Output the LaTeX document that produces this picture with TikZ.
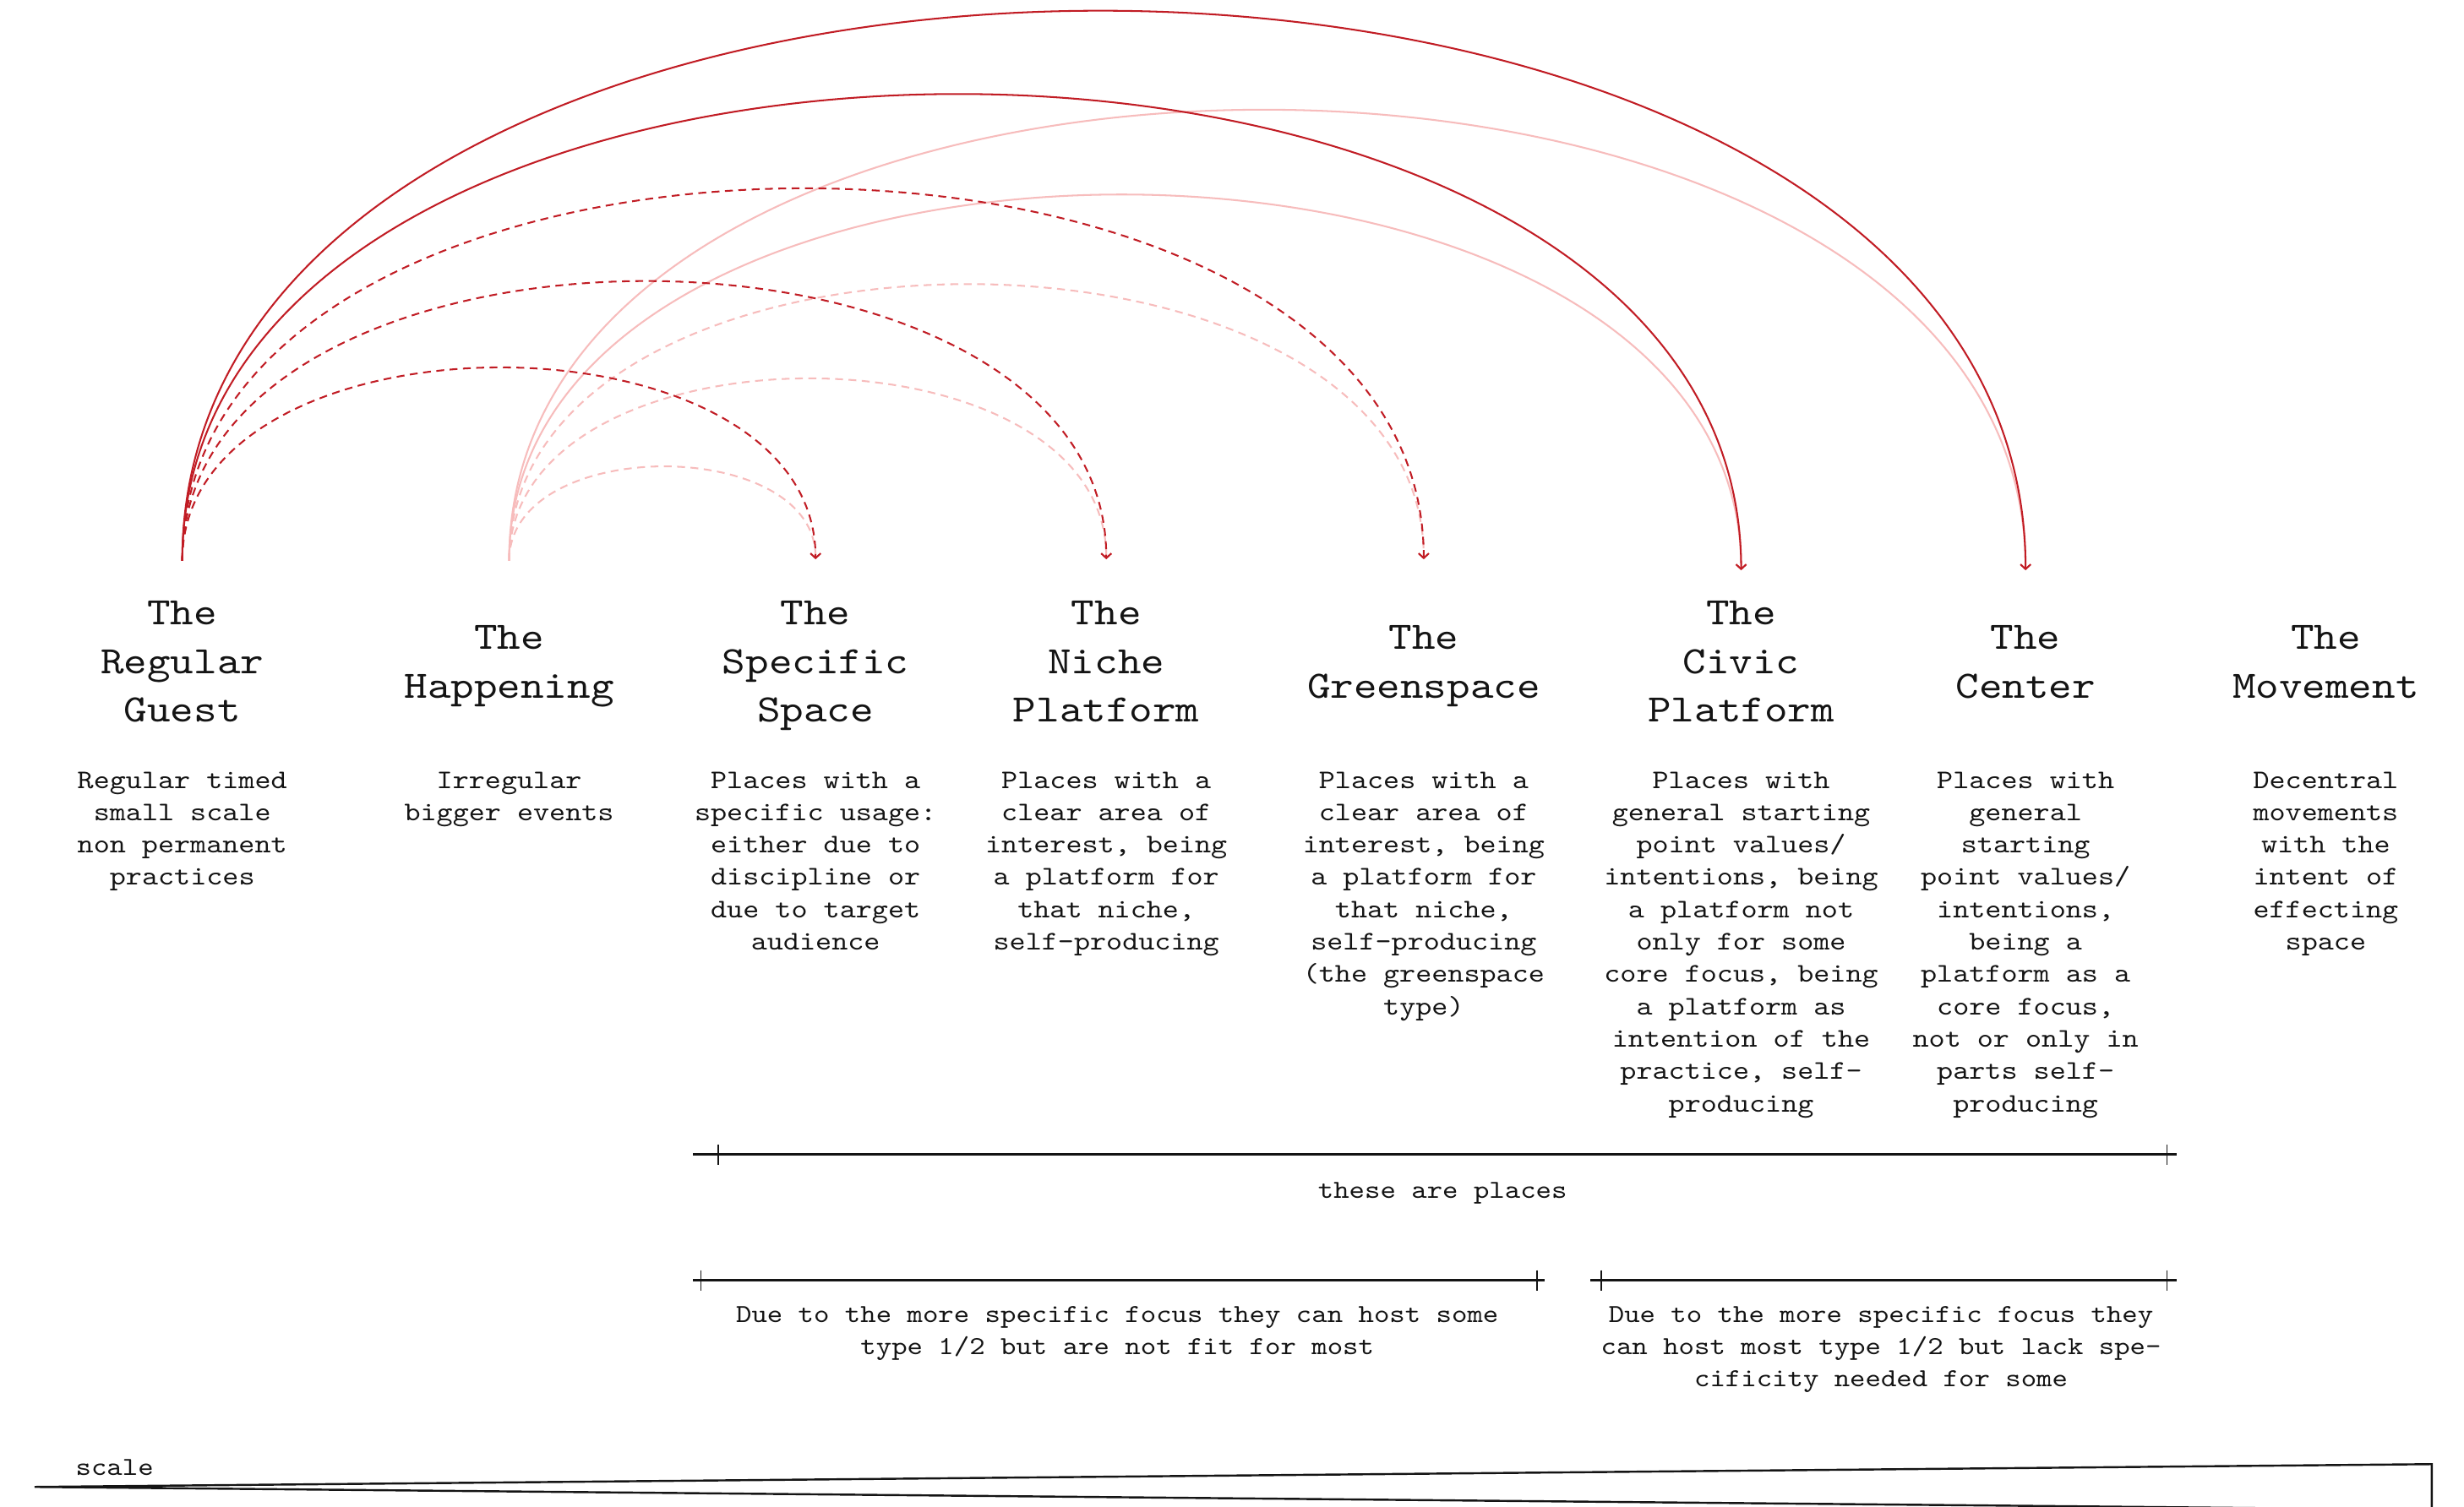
\documentclass[tikz,border=0pt]{standalone}
\usepackage{fontspec}
\usetikzlibrary{arrows.meta,calc}
\newfontfamily\cmono[FakeStretch=1.143]{lmmono10-regular.otf}
\definecolor{dred}{RGB}{193,28,36}
\definecolor{lred}{RGB}{247,188,188}
\definecolor{ink}{RGB}{20,20,20}
\newcommand\tsa{\rule{0pt}{24pt}}
\newcommand\tsb{\rule{0pt}{17pt}}
\tikzset{
  title/.style={anchor=north, align=center, inner sep=0pt, text=ink,
    font=\cmono\fontsize{24.7}{31}\selectfont},
  desc/.style={anchor=north, align=center, inner sep=0pt, text=ink,
    font=\cmono\fontsize{17.1}{20.6}\selectfont},
  note/.style={align=center, inner sep=0pt, text=ink,
    font=\cmono\fontsize{16.5}{20.6}\selectfont},
  arcbase/.style={line width=1.1pt, -{Straight Barb[length=3pt,width=6.5pt]}},
  darksolid/.style={arcbase, draw=dred},
  darkdash/.style={arcbase, draw=dred, dash pattern=on 5pt off 3.5pt},
  lightsolid/.style={arcbase, draw=lred},
  lightdash/.style={arcbase, draw=lred, dash pattern=on 5pt off 3.5pt},
  bar/.style={line width=1.6pt, draw=ink},
  tickmark/.style={line width=0.9pt, draw=ink},
  wedge/.style={line width=1.3pt, draw=ink, line join=miter},
}
\begin{document}
\begin{tikzpicture}[x=1pt, y=-1pt]
\path[fill=white, use as bounding box] (0,0) rectangle (1568,959);

% ---------- titles ----------
\node[title] (guest)  at (116,373.5) {\tsa The\\Regular\\Guest};
\node[title] (hap)    at (324,389)   {\tsa The\\Happening};
\node[title] (spec)   at (519,373.5) {\tsa The\\Specific\\Space};
\node[title] (niche)  at (704,373.5) {\tsa The\\Niche\\Platform};
\node[title] (green)  at (906,389)   {\tsa The\\Greenspace};
\node[title] (civic)  at (1108,373.5){\tsa The\\Civic\\Platform};
\node[title] (center) at (1289,389)  {\tsa The\\Center};
\node[title] (move)   at (1480,389)  {\tsa The\\Movement};

% ---------- descriptions ----------
\node[desc] (guest-d)  at (116,484.5) {\tsb Regular timed\\small scale\\non permanent\\practices};
\node[desc] (hap-d)    at (324,484.5) {\tsb Irregular\\bigger events};
\node[desc] (spec-d)   at (519,484.5) {\tsb Places with a\\specific usage:\\either due to\\discipline or\\due to target\\audience};
\node[desc] (niche-d)  at (704,484.5) {\tsb Places with a\\clear area of\\interest, being\\a platform for\\that niche,\\self-producing};
\node[desc] (green-d)  at (906,484.5) {\tsb Places with a\\clear area of\\interest, being\\a platform for\\that niche,\\self-producing\\(the greenspace\\type)};
\node[desc] (civic-d)  at (1108,484.5) {\tsb Places with\\general starting\\point values/\\intentions, being\\a platform not\\only for some\\core focus, being\\a platform as\\intention of the\\practice, self-\\producing};
\node[desc] (center-d) at (1289,484.5) {\tsb Places with\\general\\starting\\point values/\\intentions,\\being a\\platform as a\\core focus,\\not or only in\\parts self-\\producing};
\node[desc] (move-d)   at (1480,484.5) {\tsb Decentral\\movements\\with the\\intent of\\effecting\\space};

% ---------- arc end points ----------
\coordinate (guest-src)  at (116,357);
\coordinate (hap-src)    at (324,357);
\coordinate (spec-tgt)   at (519,356);
\coordinate (niche-tgt)  at (704,356);
\coordinate (green-tgt)  at (906,356);
\coordinate (civic-tgt)  at (1108,363);
\coordinate (center-tgt) at (1289,363);

% light arcs (The Happening)
\draw[lightdash]  (hap-src) .. controls +(0,-79.8)  and +(0,-78.8)  .. (spec-tgt);
\draw[lightdash]  (hap-src) .. controls +(0,-154.5) and +(0,-153.5) .. (niche-tgt);
\draw[lightdash]  (hap-src) .. controls +(0,-234.5) and +(0,-233.5) .. (green-tgt);
\draw[lightsolid] (hap-src) .. controls +(0,-311.7) and +(0,-317.7) .. (civic-tgt);
\draw[lightsolid] (hap-src) .. controls +(0,-383.7) and +(0,-389.7) .. (center-tgt);

% dark arcs (The Regular Guest)
\draw[darkdash]  (guest-src) .. controls +(0,-163.8) and +(0,-162.8) .. (spec-tgt);
\draw[darkdash]  (guest-src) .. controls +(0,-237.1) and +(0,-236.1) .. (niche-tgt);
\draw[darkdash]  (guest-src) .. controls +(0,-315.8) and +(0,-314.8) .. (green-tgt);
\draw[darksolid] (guest-src) .. controls +(0,-397)   and +(0,-403)   .. (civic-tgt);
\draw[darksolid] (guest-src) .. controls +(0,-467.7) and +(0,-473.7) .. (center-tgt);

% ---------- brackets ----------
\coordinate (b1a) at (441,735);  \coordinate (b1b) at (1385,735);
\coordinate (b1t1) at (457,735); \coordinate (b1t2) at (1379,735);
\draw[bar] (b1a) -- (b1b);
\draw[tickmark] ($(b1t1)+(0,-6.5)$) -- ($(b1t1)+(0,6.5)$);
\draw[tickmark] ($(b1t2)+(0,-6.5)$) -- ($(b1t2)+(0,6.5)$);
\node[note, anchor=base] (places) at (918,762.5) {these are places};

\coordinate (b2a) at (441,815);  \coordinate (b2b) at (983,815);
\coordinate (b2t1) at (446,815); \coordinate (b2t2) at (978,815);
\draw[bar] (b2a) -- (b2b);
\draw[tickmark] ($(b2t1)+(0,-6.5)$) -- ($(b2t1)+(0,6.5)$);
\draw[tickmark] ($(b2t2)+(0,-6.5)$) -- ($(b2t2)+(0,6.5)$);
\node[note, anchor=north] (note2) at (711,824.5) {\tsb Due to the more specific focus they can host some\\type 1/2 but are not fit for most};

\coordinate (b3a) at (1012,815);  \coordinate (b3b) at (1385,815);
\coordinate (b3t1) at (1019,815); \coordinate (b3t2) at (1379,815);
\draw[bar] (b3a) -- (b3b);
\draw[tickmark] ($(b3t1)+(0,-6.5)$) -- ($(b3t1)+(0,6.5)$);
\draw[tickmark] ($(b3t2)+(0,-6.5)$) -- ($(b3t2)+(0,6.5)$);
\node[note, anchor=north] (note3) at (1197,824.5) {\tsb Due to the more specific focus they\\can host most type 1/2 but lack spe-\\cificity needed for some};

% ---------- scale wedge ----------
\node[note, anchor=base west] (scale) at (48,939) {scale};
\coordinate (w1) at (22,946.5);
\coordinate (w2) at (1547.5,932);
\coordinate (w3) at (1547.5,961);
\draw[wedge] (w1) -- (w2) -- (w3) -- cycle;
\end{tikzpicture}
\end{document}
